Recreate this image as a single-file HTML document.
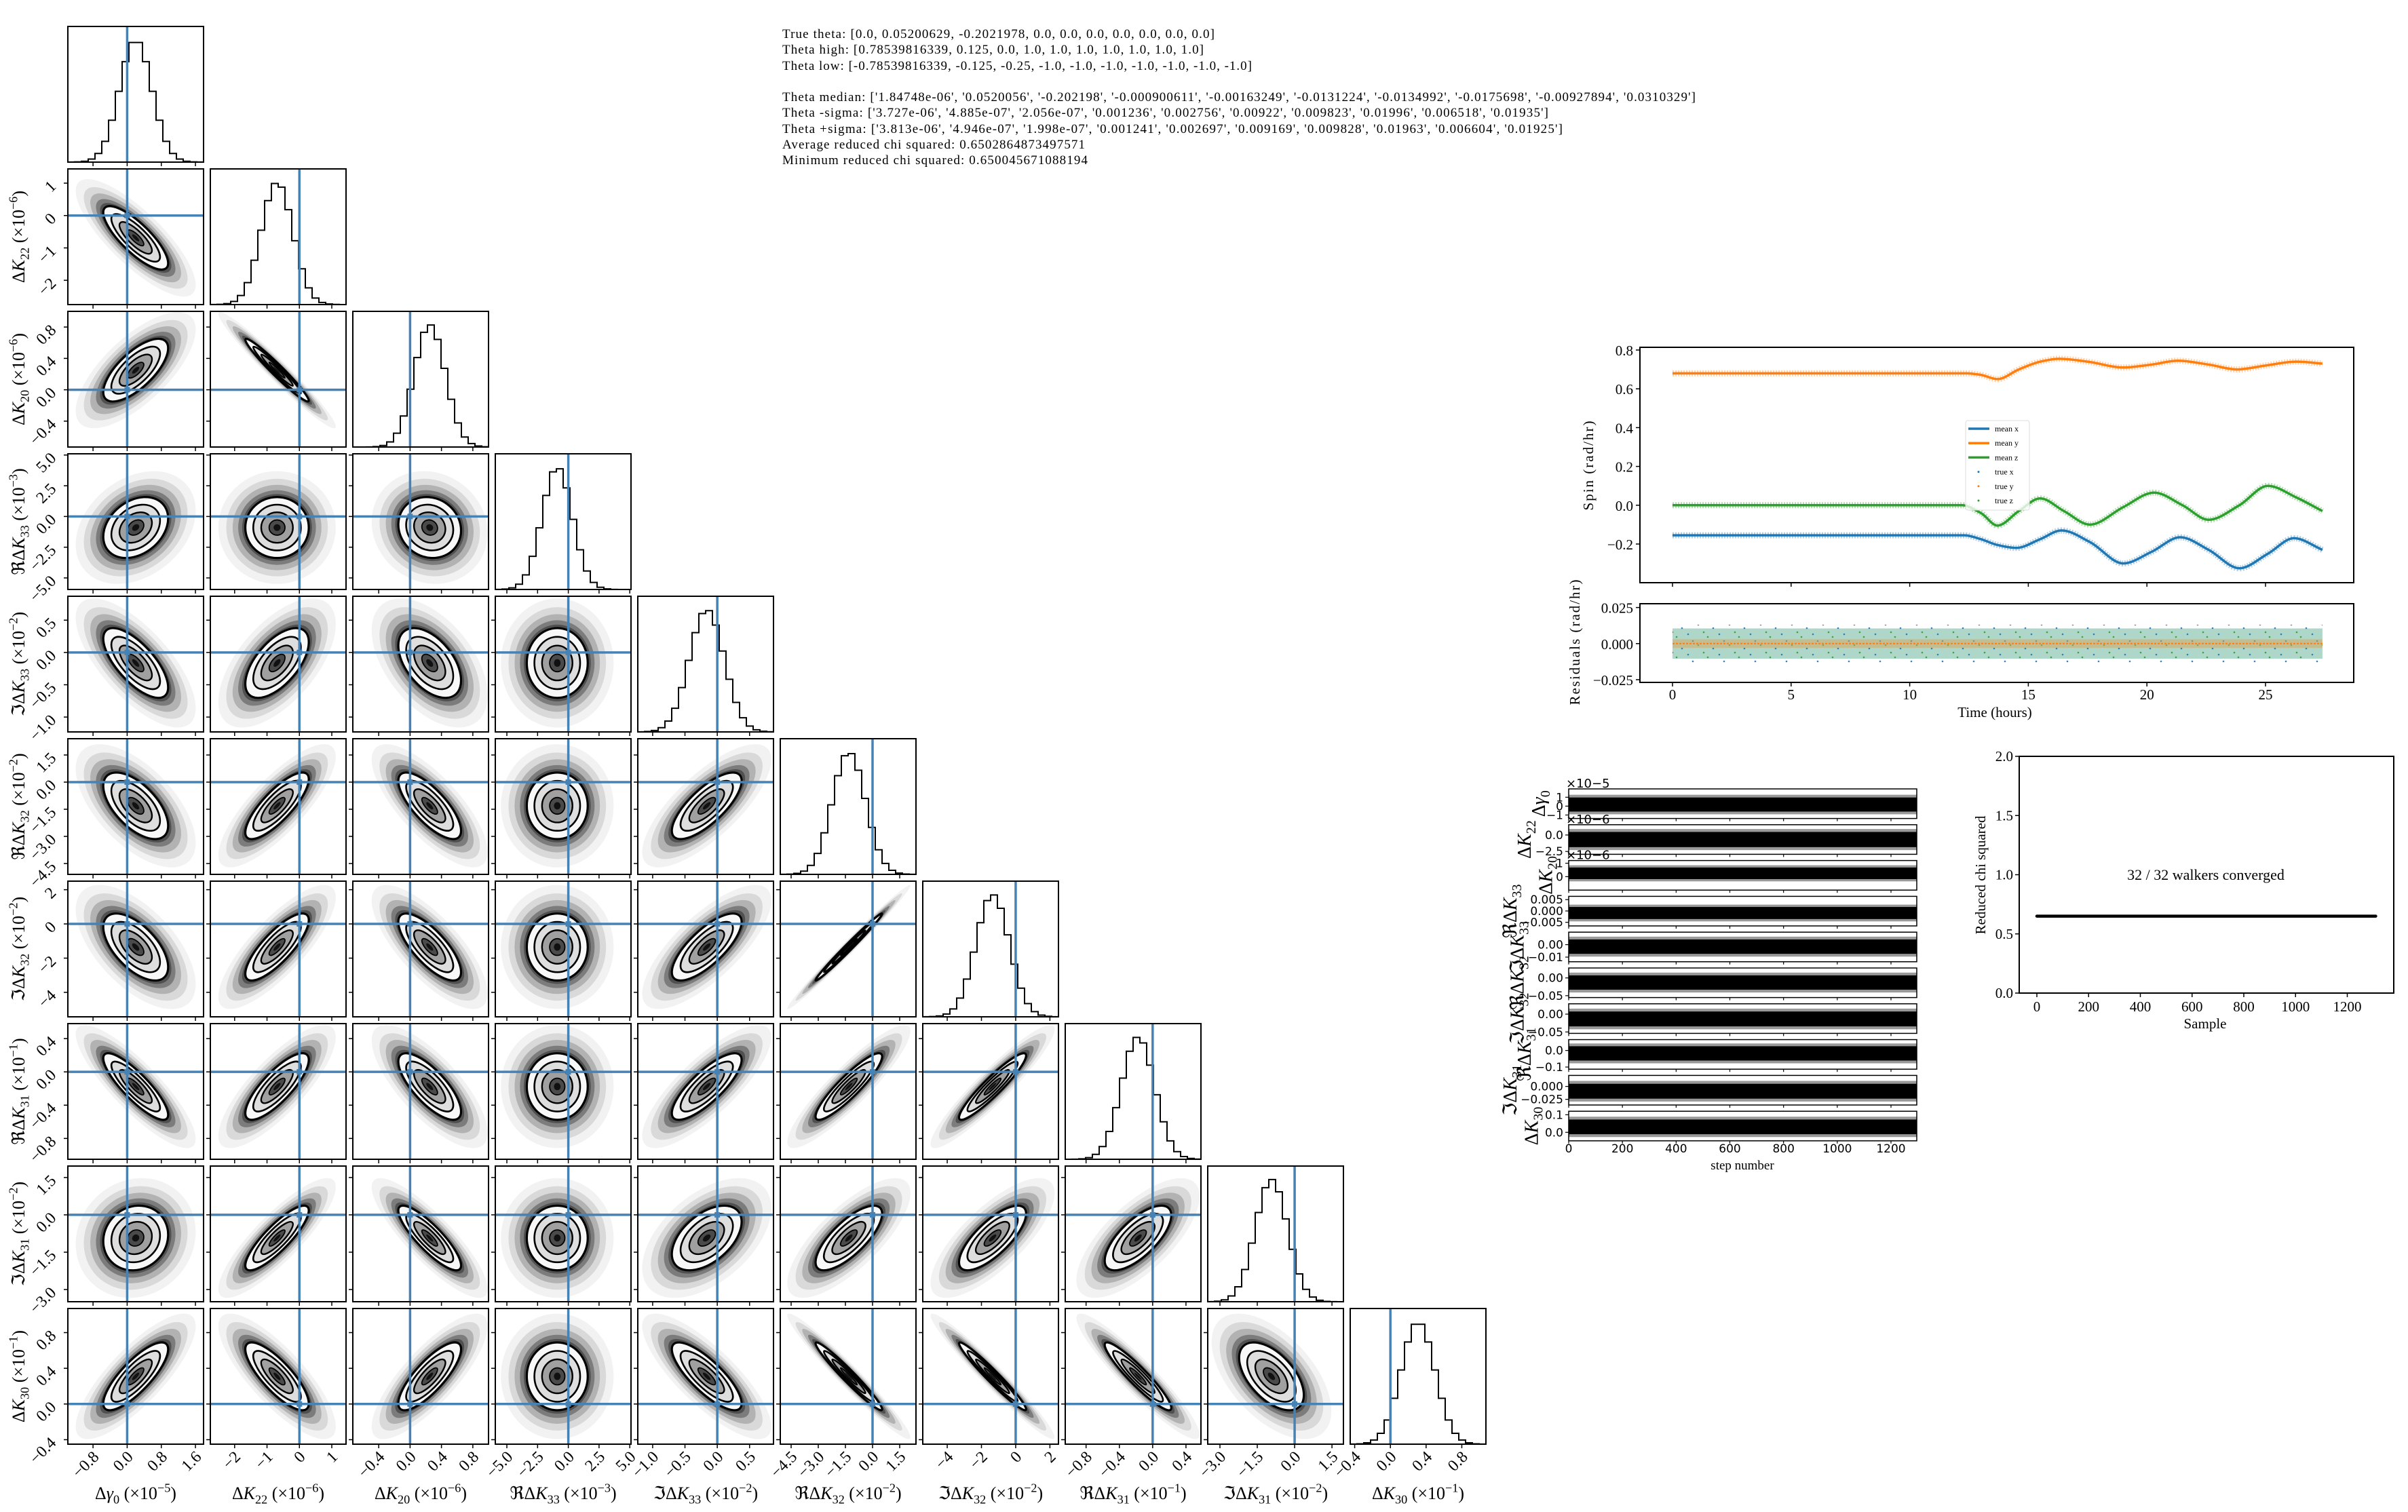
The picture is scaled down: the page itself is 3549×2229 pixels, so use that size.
<!DOCTYPE html>
<html><head><meta charset="utf-8">
<style>
html,body{margin:0;padding:0;background:#fff;}
svg{display:block;font-family:"Liberation Serif","DejaVu Serif",serif;}
</style></head>
<body>
<svg id="fig" width="3549" height="2229" viewBox="0 0 3549 2229" xmlns="http://www.w3.org/2000/svg">
<defs>
  <pattern id="resdots" width="46" height="30" patternUnits="userSpaceOnUse">
    <circle cx="4" cy="5" r="1.3" fill="#1f77b4"/><circle cx="19" cy="21" r="1.3" fill="#2ca02c"/>
    <circle cx="33" cy="9" r="1.3" fill="#2ca02c"/><circle cx="41" cy="26" r="1.3" fill="#1f77b4"/>
    <circle cx="11" cy="15" r="1.3" fill="#1f77b4"/><circle cx="27" cy="2" r="1.3" fill="#2ca02c"/>
  </pattern>
</defs>
<g font-size="19" fill="#000">
  <text x="1153" y="56" textLength="637">True theta: [0.0, 0.05200629, -0.2021978, 0.0, 0.0, 0.0, 0.0, 0.0, 0.0, 0.0]</text>
  <text x="1153" y="79" textLength="621">Theta high: [0.78539816339, 0.125, 0.0, 1.0, 1.0, 1.0, 1.0, 1.0, 1.0, 1.0]</text>
  <text x="1153" y="103" textLength="692">Theta low: [-0.78539816339, -0.125, -0.25, -1.0, -1.0, -1.0, -1.0, -1.0, -1.0, -1.0]</text>
  <text x="1153" y="149" textLength="1346">Theta median: ['1.84748e-06', '0.0520056', '-0.202198', '-0.000900611', '-0.00163249', '-0.0131224', '-0.0134992', '-0.0175698', '-0.00927894', '0.0310329']</text>
  <text x="1153" y="172" textLength="1129">Theta -sigma: ['3.727e-06', '4.885e-07', '2.056e-07', '0.001236', '0.002756', '0.00922', '0.009823', '0.01996', '0.006518', '0.01935']</text>
  <text x="1153" y="196" textLength="1150">Theta +sigma: ['3.813e-06', '4.946e-07', '1.998e-07', '0.001241', '0.002697', '0.009169', '0.009828', '0.01963', '0.006604', '0.01925']</text>
  <text x="1153" y="219" textLength="446">Average reduced chi squared: 0.6502864873497571</text>
  <text x="1153" y="242" textLength="450">Minimum reduced chi squared: 0.650045671088194</text>
</g>
<g id="corner"></g>
<g id="spin"></g>
<g id="trace"></g>
<g id="chi"></g>
</svg>
<script>
// ---------------- corner data ----------------
const LO = [-1.39, -2.75, -0.73, -5.94, -1.23, -5.1, -5.43, -1.05, -3.49, -0.45];
const HI = [1.79, 1.44, 1.0, 5.1, 0.87, 2.4, 2.5, 0.58, 1.96, 1.07];
const MED = [0.2, -0.69, 0.25, -0.9, -0.163, -1.31, -1.35, -0.176, -0.93, 0.31];
const SIG = [0.38, 0.49, 0.2, 1.24, 0.27, 0.92, 0.98, 0.2, 0.65, 0.19];
const TRUTH = [0, 0, 0, 0, 0, 0, 0, 0, 0, 0];
const TICKS = [[-0.8,0,0.8,1.6],[-2,-1,0,1],[-0.4,0,0.4,0.8],[-5,-2.5,0,2.5,5],[-1,-0.5,0,0.5],[-4.5,-3,-1.5,0,1.5],[-4,-2,0,2],[-0.8,-0.4,0,0.4],[-3,-1.5,0,1.5],[-0.4,0,0.4,0.8]];
const TICKLBL = [["−0.8","0.0","0.8","1.6"],["−2","−1","0","1"],["−0.4","0.0","0.4","0.8"],["−5.0","−2.5","0.0","2.5","5.0"],["−1.0","−0.5","0.0","0.5"],["−4.5","−3.0","−1.5","0.0","1.5"],["−4","−2","0","2"],["−0.8","−0.4","0.0","0.4"],["−3.0","−1.5","0.0","1.5"],["−0.4","0.0","0.4","0.8"]];
const RHO = [[],[-0.8],[0.7,-0.97],[0.3,0,-0.1],[-0.7,0.6,-0.5,0],[-0.6,0.8,-0.75,0,0.75],[-0.6,0.8,-0.75,0,0.75,0.99],[-0.85,0.8,-0.75,0,0.8,0.9,0.93],[0.1,0.85,-0.85,0,0.5,0.75,0.75,0.7],[0.8,-0.8,0.8,0,-0.8,-0.97,-0.97,-0.93,-0.55]];
const LBL_PRE = ["Δ","Δ","Δ","ℜΔ","ℑΔ","ℜΔ","ℑΔ","ℜΔ","ℑΔ","Δ"];
const LBL_VAR = ["γ","K","K","K","K","K","K","K","K","K"];
const LBL_SUB = ["0","22","20","33","33","32","32","31","31","30"];
const LBL_EXP = ["−5","−6","−6","−3","−2","−2","−2","−1","−2","−1"];

// ---------------- spin data ----------------
const TX = [0, 12.3, 13.0, 13.7, 14.5, 15.5, 16.4, 17.6, 19.0, 20.2, 21.4, 22.6, 23.9, 25.1, 26.2, 27.4];
const MEANX = [-0.155, -0.155, -0.175, -0.205, -0.22, -0.175, -0.13, -0.19, -0.30, -0.24, -0.165, -0.23, -0.325, -0.25, -0.17, -0.23];
const TY = [0, 12.4, 13.0, 13.7, 14.6, 15.5, 16.3, 17.5, 19.0, 20.2, 21.3, 22.6, 23.8, 25.0, 26.3, 27.4];
const MEANY = [0.68, 0.68, 0.672, 0.65, 0.70, 0.74, 0.755, 0.74, 0.71, 0.725, 0.745, 0.725, 0.70, 0.72, 0.74, 0.73];
const TZ = [0, 12.2, 13.0, 13.7, 14.6, 15.5, 16.5, 17.6, 19.0, 20.3, 21.5, 22.6, 23.9, 25.1, 26.3, 27.4];
const MEANZ = [0, 0, -0.04, -0.105, -0.03, 0.035, -0.03, -0.10, -0.01, 0.065, 0.0, -0.075, 0.0, 0.10, 0.04, -0.03];
const SPIN_YTICKS = [0.8, 0.6, 0.4, 0.2, 0.0, -0.2];
const SPIN_YLBL = ["0.8","0.6","0.4","0.2","0.0","−0.2"];
const T_TICKS = [0, 5, 10, 15, 20, 25];
const RES_TICKS = [0.025, 0, -0.025];
const RES_LBL = ["0.025","0.000","−0.025"];
const RES_BAND = [0.0105, 0.003];

// ---------------- trace data ----------------
const TR_LO = [-1.39, -2.93, -1.0, -0.0066, -0.0137, -0.0553, -0.054, -0.113, -0.036, -0.0484];
const TR_HI = [1.94, 1.56, 1.2, 0.00645, 0.010, 0.028, 0.029, 0.0656, 0.0213, 0.120];
const TR_MEAN = [0.18, -0.69, 0.25, -0.0009, -0.0016, -0.013, -0.0135, -0.0176, -0.0093, 0.031];
const TR_HALF = [1.1, 1.6, 0.6, 0.0037, 0.008, 0.028, 0.029, 0.06, 0.02, 0.058];
const TR_TICKS = [[1,0,-1],[0,-2.5],[1,0],[0.005,0,-0.005],[0,-0.01],[0,-0.05],[0,-0.05],[0,-0.1],[0,-0.025],[0.1,0]];
const TR_TLBL = [["1","0","−1"],["0.0","−2.5"],["1","0"],["0.005","0.000","−0.005"],["0.00","−0.01"],["0.00","−0.05"],["0.00","−0.05"],["0.0","−0.1"],["0.000","−0.025"],["0.1","0.0"]];
const TR_OFFSET = ["×10−5","×10−6","×10−6","","","","","","",""];
const STEP_TICKS = [0, 200, 400, 600, 800, 1000, 1200];
const NSTEPS = 1296;

// ---------------- chi data ----------------
const CHI_VALUE = 0.65;
const CHI_NSAMPLES = 1310;
const CHI_YTICKS = [0.0, 0.5, 1.0, 1.5, 2.0];
const CHI_XTICKS = [0, 200, 400, 600, 800, 1000, 1200];

const NS = "http://www.w3.org/2000/svg";
function mk(tag, attrs, parent) {
  const e = document.createElementNS(NS, tag);
  for (const k in attrs) e.setAttribute(k, attrs[k]);
  if (parent) parent.appendChild(e);
  return e;
}
function txt(parent, x, y, s, attrs) {
  const t = mk("text", Object.assign({x: x, y: y}, attrs || {}), parent);
  t.textContent = s;
  return t;
}
function mathLabel(parent, x, y, i, size, rot) {
  const t = mk("text", {x: x, y: y, "font-size": size, "text-anchor": "middle", transform: rot ? "rotate(" + rot + " " + x + " " + y + ")" : ""}, parent);
  const a = mk("tspan", {}, t); a.textContent = LBL_PRE[i];
  const b = mk("tspan", {"font-style": "italic"}, t); b.textContent = LBL_VAR[i];
  const c = mk("tspan", {"font-size": size * 0.7, dy: size * 0.25}, t); c.textContent = LBL_SUB[i];
  const d = mk("tspan", {dy: -size * 0.25}, t); d.textContent = " (×10";
  const e = mk("tspan", {"font-size": size * 0.7, dy: -size * 0.4}, t); e.textContent = LBL_EXP[i];
  const f = mk("tspan", {dy: size * 0.4}, t); f.textContent = ")";
  return t;
}

// ================= CORNER =================
const corner = document.getElementById("corner");
const X0 = 100, Y0 = 39, S = 200, STEP = 210, BLUE = "#4682b4";
function px(j, v) { return X0 + j * STEP + (v - LO[j]) / (HI[j] - LO[j]) * S; }
function py(i, v) { return Y0 + i * STEP + (HI[i] - v) / (HI[i] - LO[i]) * S; }

for (let i = 0; i < 10; i++) {
  for (let j = 0; j <= i; j++) {
    const gx = X0 + j * STEP, gy = Y0 + i * STEP;
    const g = mk("g", {}, corner);
    
    
    const cid = "clip" + i + "_" + j;
    const cp = mk("clipPath", {id: cid}, g);
    mk("rect", {x: gx, y: gy, width: S, height: S}, cp);
    const inner = mk("g", {"clip-path": "url(#" + cid + ")"}, g);
    if (i === j) {
      const nb = 20, w = (HI[i] - LO[i]) / nb;
      let d = "M" + gx + "," + (gy + S);
      for (let k = 0; k < nb; k++) {
        const c = LO[i] + (k + 0.5) * w;
        const z = (c - MED[i]) / SIG[i];
        const h = Math.exp(-0.5 * z * z);
        const yy = gy + S - h * 0.92 * S * 0.98;
        d += " L" + px(i, LO[i] + k * w) + "," + yy + " L" + px(i, LO[i] + (k + 1) * w) + "," + yy;
      }
      d += " L" + (gx + S) + "," + (gy + S);
      const hist = mk("path", {d: d, fill: "none", stroke: "#000", "stroke-width": 2}, inner);
      
      
      const tl = mk("line", {x1: px(i, TRUTH[i]), x2: px(i, TRUTH[i]), y1: gy, y2: gy + S, stroke: BLUE, "stroke-width": 3.5}, inner);
      
      
    } else {
      const sxp = S / (HI[j] - LO[j]), syp = S / (HI[i] - LO[i]);
      const r = RHO[i][j];
      const a = Math.pow(SIG[j] * sxp, 2), c = Math.pow(SIG[i] * syp, 2);
      const b = -r * SIG[j] * sxp * SIG[i] * syp;
      const th = 0.5 * Math.atan2(2 * b, a - c) * 180 / Math.PI;
      const m = (a + c) / 2, q = Math.sqrt(Math.pow((a - c) / 2, 2) + b * b);
      const rx = Math.sqrt(m + q), ry = Math.sqrt(Math.max(m - q, 0.5));
      const cx = px(j, MED[j]), cy = py(i, MED[i]);
      const lay = [
        [3.7, "#000", 0.05, null, 0], [3.2, "#000", 0.10, null, 0], [2.8, "#000", 0.18, null, 0],
        [2.45, "#000", 0.3, null, 0], [2.2, "#000", 0.35, null, 0],
        [2.0, "#f8f8f8", 1, "#000", 3.2], [1.5, "#dedede", 1, "#000", 2.6],
        [1.0, "#a0a0a0", 1, "#000", 2.4], [0.5, "#4a4a4a", 1, "#000", 1.8], [0.22, "#111", 1, null, 0]
      ];
      for (const L of lay) {
        const el = mk("ellipse", {cx: cx, cy: cy, rx: rx * L[0], ry: ry * L[0], fill: L[1], "fill-opacity": L[2],
          stroke: L[3] || "none", "stroke-width": L[4], transform: "rotate(" + th + " " + cx + " " + cy + ")"}, inner);
        
        
      }
      const vl = mk("line", {x1: px(j, TRUTH[j]), x2: px(j, TRUTH[j]), y1: gy, y2: gy + S, stroke: BLUE, "stroke-width": 3.5}, inner);
      
      
      const hl = mk("line", {x1: gx, x2: gx + S, y1: py(i, TRUTH[i]), y2: py(i, TRUTH[i]), stroke: BLUE, "stroke-width": 3.5}, inner);
      
      
      const tm = mk("rect", {x: px(j, TRUTH[j]) - 4, y: py(i, TRUTH[i]) - 4, width: 8, height: 8, fill: BLUE}, inner);
      
      
      TICKS[i].forEach(function (v, k) {
        const yy = py(i, v);
        if (yy < gy || yy > gy + S) return;
        mk("line", {x1: gx - 6, x2: gx, y1: yy, y2: yy, stroke: "#000", "stroke-width": 1.5}, g);
        if (j === 0) {
          const tt = txt(g, 84, yy + 6, TICKLBL[i][k], {"font-size": 24, "text-anchor": "end", transform: "rotate(-45 84 " + (yy + 6) + ")"});
          
          
        }
      });
    }
    const frame = mk("rect", {x: gx, y: gy, width: S, height: S, fill: "none", stroke: "#000", "stroke-width": 2}, g);
    
    
    TICKS[j].forEach(function (v, k) {
      const xx = px(j, v);
      if (xx < gx || xx > gx + S) return;
      mk("line", {x1: xx, x2: xx, y1: gy + S, y2: gy + S + 6, stroke: "#000", "stroke-width": 1.5}, g);
      if (i === 9) {
        const tt = txt(g, xx + 10, gy + S + 20, TICKLBL[j][k], {"font-size": 24, "text-anchor": "end", transform: "rotate(-45 " + (xx + 10) + " " + (gy + S + 20) + ")"});
        
        
      }
    });
  }
  const xl = mathLabel(corner, X0 + i * STEP + S / 2, 2210, i, 26, 0);
  
  
  if (i > 0) {
    const yl = mathLabel(corner, 36, Y0 + i * STEP + S / 2, i, 26, -90);
    
    
  }
}

// ================= SPIN =================
const spin = document.getElementById("spin");
const SX0 = 2417, SX1 = 3469, SY0 = 512, SY1 = 859, RY0 = 890, RY1 = 1006;
function tx(t) { return 2465 + t * 34.96; }
function sy(v) { return 516 + (0.8 - v) * 286; }
function ry(v) { return 948.8 - v * 2128; }
function smooth(ts, vs) {
  const n = ts.length;
  const slope = [];
  for (let k = 0; k < n; k++) {
    if (k === 0) slope.push((vs[1] - vs[0]) / (ts[1] - ts[0]));
    else if (k === n - 1) slope.push((vs[n - 1] - vs[n - 2]) / (ts[n - 1] - ts[n - 2]));
    else {
      const s1 = (vs[k] - vs[k - 1]) / (ts[k] - ts[k - 1]), s2 = (vs[k + 1] - vs[k]) / (ts[k + 1] - ts[k]);
      slope.push(s1 * s2 <= 0 ? 0 : 2 / (1 / s1 + 1 / s2));
    }
  }
  let d = "M" + tx(ts[0]) + "," + sy(vs[0]);
  for (let k = 0; k < n - 1; k++) {
    const h = (ts[k + 1] - ts[k]) / 3;
    d += " C" + tx(ts[k] + h) + "," + sy(vs[k] + slope[k] * h) + " " + tx(ts[k + 1] - h) + "," + sy(vs[k + 1] - slope[k + 1] * h) + " " + tx(ts[k + 1]) + "," + sy(vs[k + 1]);
  }
  return d;
}
mk("rect", {x: SX0, y: SY0, width: SX1 - SX0, height: SY1 - SY0, fill: "none", stroke: "#000", "stroke-width": 2}, spin);
const series = [[TX, MEANX, "#1f77b4", "mean-x-line"], [TY, MEANY, "#ff7f0e", "mean-y-line"], [TZ, MEANZ, "#2ca02c", "mean-z-line"]];
series.forEach(function (s) {
  const fz = mk("path", {d: smooth(s[0], s[1]), fill: "none", stroke: s[2], "stroke-width": 9, "stroke-opacity": 0.35, "stroke-dasharray": "2 2"}, spin);
  
  
  const ln = mk("path", {d: smooth(s[0], s[1]), fill: "none", stroke: s[2], "stroke-width": 3.5}, spin);
  
  
});
SPIN_YTICKS.forEach(function (v, k) {
  mk("line", {x1: SX0 - 6, x2: SX0, y1: sy(v), y2: sy(v), stroke: "#000", "stroke-width": 1.5}, spin);
  const t = txt(spin, SX0 - 10, sy(v) + 8, SPIN_YLBL[k], {"font-size": 21, "text-anchor": "end"});
  
  
});
T_TICKS.forEach(function (t) {
  mk("line", {x1: tx(t), x2: tx(t), y1: SY1, y2: SY1 + 6, stroke: "#000", "stroke-width": 1.5}, spin);
  mk("line", {x1: tx(t), x2: tx(t), y1: RY1, y2: RY1 + 6, stroke: "#000", "stroke-width": 1.5}, spin);
  const l = txt(spin, tx(t), 1031, String(t), {"font-size": 21, "text-anchor": "middle"});
  
  
});
const sl = txt(spin, 2348, (SY0 + SY1) / 2, "Spin (rad/hr)", {"font-size": 21, "text-anchor": "middle", "letter-spacing": 2, transform: "rotate(-90 2348 " + ((SY0 + SY1) / 2) + ")"});


const lg = mk("g", {}, spin);


mk("rect", {x: 2897, y: 620, width: 94, height: 132, fill: "#fff", "fill-opacity": 0.8, stroke: "#ddd", "stroke-width": 1, rx: 3}, lg);
const LEG = [["mean x", "#1f77b4", 1], ["mean y", "#ff7f0e", 1], ["mean z", "#2ca02c", 1], ["true x", "#1f77b4", 0], ["true y", "#ff7f0e", 0], ["true z", "#2ca02c", 0]];
LEG.forEach(function (L, k) {
  const yy = 632 + k * 21.2;
  if (L[2]) mk("line", {x1: 2901, x2: 2932, y1: yy, y2: yy, stroke: L[1], "stroke-width": 3.5}, lg);
  else mk("circle", {cx: 2916, cy: yy, r: 1.5, fill: L[1]}, lg);
  const lt = txt(lg, 2940, yy + 4, L[0], {"font-size": 12});
  
  
});
const res = mk("g", {}, spin);


const b0 = mk("rect", {x: tx(0), y: ry(RES_BAND[0]), width: tx(27.4) - tx(0), height: ry(-RES_BAND[0]) - ry(RES_BAND[0]), fill: "#5faf93", "fill-opacity": 0.5}, res);


const b2 = mk("rect", {x: tx(0), y: ry(RES_BAND[0] * 1.25), width: tx(27.4) - tx(0), height: ry(-RES_BAND[0] * 1.25) - ry(RES_BAND[0] * 1.25), fill: "url(#resdots)", "fill-opacity": 0.9}, res);


const b1 = mk("rect", {x: tx(0), y: ry(RES_BAND[1]), width: tx(27.4) - tx(0), height: ry(-RES_BAND[1]) - ry(RES_BAND[1]), fill: "#d9a35a", "fill-opacity": 0.5}, res);


mk("line", {x1: tx(0), x2: tx(27.4), y1: ry(0), y2: ry(0), stroke: "#ff7f0e", "stroke-width": 2, "stroke-dasharray": "3 2"}, res);
mk("rect", {x: SX0, y: RY0, width: SX1 - SX0, height: RY1 - RY0, fill: "none", stroke: "#000", "stroke-width": 2}, res);
RES_TICKS.forEach(function (v, k) {
  mk("line", {x1: SX0 - 6, x2: SX0, y1: ry(v), y2: ry(v), stroke: "#000", "stroke-width": 1.5}, res);
  const t = txt(res, SX0 - 10, ry(v) + 8, RES_LBL[k], {"font-size": 21, "text-anchor": "end"});
  
  
});
const rl = txt(res, 2328, 946, "Residuals (rad/hr)", {"font-size": 21, "text-anchor": "middle", "letter-spacing": 2, transform: "rotate(-90 2328 946)"});


const tl2 = txt(spin, 2940, 1057, "Time (hours)", {"font-size": 21, "text-anchor": "middle"});



// ================= TRACE =================
const trace = document.getElementById("trace");
const TRX0 = 2312, TRX1 = 2825, TRY0 = 1163, TRSTEP = 52.8, TRH = 43.6;
function stx(s) { return TRX0 + s * (TRX1 - TRX0) / NSTEPS; }
for (let r = 0; r < 10; r++) {
  const y0 = TRY0 + r * TRSTEP;
  const g = mk("g", {}, trace);
  
  
  function ty(v) { return y0 + (TR_HI[r] - v) / (TR_HI[r] - TR_LO[r]) * TRH; }
  const tcid = "tclip" + r;
  const tcp = mk("clipPath", {id: tcid}, g);
  mk("rect", {x: TRX0, y: y0, width: TRX1 - TRX0, height: TRH}, tcp);
  const tin = mk("g", {"clip-path": "url(#" + tcid + ")"}, g);
  const outer = mk("rect", {x: TRX0, y: ty(TR_MEAN[r] + TR_HALF[r] * 1.0), width: TRX1 - TRX0, height: ty(TR_MEAN[r] - TR_HALF[r] * 1.0) - ty(TR_MEAN[r] + TR_HALF[r] * 1.0), fill: "#000", "fill-opacity": 0.4}, tin);
  
  
  const inner = mk("rect", {x: TRX0, y: ty(TR_MEAN[r] + TR_HALF[r] * 0.72), width: TRX1 - TRX0, height: ty(TR_MEAN[r] - TR_HALF[r] * 0.72) - ty(TR_MEAN[r] + TR_HALF[r] * 0.72), fill: "#000"}, tin);
  
  
  mk("rect", {x: TRX0, y: y0, width: TRX1 - TRX0, height: TRH, fill: "none", stroke: "#000", "stroke-width": 1.5}, g);
  let maxlen = 0;
  TR_TICKS[r].forEach(function (v, k) {
    const yy = ty(v);
    mk("line", {x1: TRX0 - 5, x2: TRX0, y1: yy, y2: yy, stroke: "#000", "stroke-width": 1.2}, g);
    const t = txt(g, TRX0 - 8, yy + 6, TR_TLBL[r][k], {"font-size": 17, "text-anchor": "end", "font-family": "DejaVu Sans, sans-serif"});
    
    
    maxlen = Math.max(maxlen, TR_TLBL[r][k].length);
  });
  STEP_TICKS.forEach(function (s) {
    mk("line", {x1: stx(s), x2: stx(s), y1: y0 + TRH, y2: y0 + TRH + 4, stroke: "#000", "stroke-width": 1.2}, g);
  });
  if (TR_OFFSET[r]) {
    const o = txt(g, TRX0 - 4, y0 - 2, TR_OFFSET[r], {"font-size": 18, "font-family": "DejaVu Sans, sans-serif"});
    
    
  }
  const lx = TRX0 - 14 - maxlen * 10.5;
  const lab = mk("text", {x: lx, y: y0 + TRH / 2, "font-size": 28, "text-anchor": "middle", transform: "rotate(-90 " + lx + " " + (y0 + TRH / 2) + ")"}, g);
  
  
  const a1 = mk("tspan", {}, lab); a1.textContent = LBL_PRE[r];
  const a2 = mk("tspan", {"font-style": "italic"}, lab); a2.textContent = LBL_VAR[r];
  const a3 = mk("tspan", {"font-size": 20, dy: 7}, lab); a3.textContent = LBL_SUB[r];
}
STEP_TICKS.forEach(function (s) {
  const t = txt(trace, stx(s), 1699, String(s), {"font-size": 17, "text-anchor": "middle", "font-family": "DejaVu Sans, sans-serif"});
  
  
});
const stl = txt(trace, 2568, 1724, "step number", {"font-size": 19, "text-anchor": "middle"});



// ================= CHI =================
const chi = document.getElementById("chi");
const CX0 = 2976, CX1 = 3528, CY0 = 1115, CY1 = 1464;
function cxs(s) { return 3002 + s * 0.38125; }
function cys(v) { return CY1 - v * (CY1 - CY0) / 2; }
mk("rect", {x: CX0, y: CY0, width: CX1 - CX0, height: CY1 - CY0, fill: "none", stroke: "#000", "stroke-width": 2}, chi);
const cl = mk("line", {x1: cxs(0), x2: cxs(CHI_NSAMPLES), y1: cys(CHI_VALUE), y2: cys(CHI_VALUE), stroke: "#000", "stroke-width": 4.5, "stroke-linecap": "round"}, chi);


CHI_YTICKS.forEach(function (v) {
  mk("line", {x1: CX0 - 6, x2: CX0, y1: cys(v), y2: cys(v), stroke: "#000", "stroke-width": 1.5}, chi);
  const t = txt(chi, CX0 - 9, cys(v) + 7, v.toFixed(1), {"font-size": 21, "text-anchor": "end"});
  
  
});
CHI_XTICKS.forEach(function (s) {
  mk("line", {x1: cxs(s), x2: cxs(s), y1: CY1, y2: CY1 + 6, stroke: "#000", "stroke-width": 1.5}, chi);
  const t = txt(chi, cxs(s), 1491, String(s), {"font-size": 21, "text-anchor": "middle"});
  
  
});
const cyl = txt(chi, 2926, 1290, "Reduced chi squared", {"font-size": 21, "text-anchor": "middle", transform: "rotate(-90 2926 1290)"});


const cxl = txt(chi, 3250, 1516, "Sample", {"font-size": 21, "text-anchor": "middle"});


const conv = txt(chi, 3251, 1297, "32 / 32 walkers converged", {"font-size": 22, "text-anchor": "middle"});


</script>
</body></html>
